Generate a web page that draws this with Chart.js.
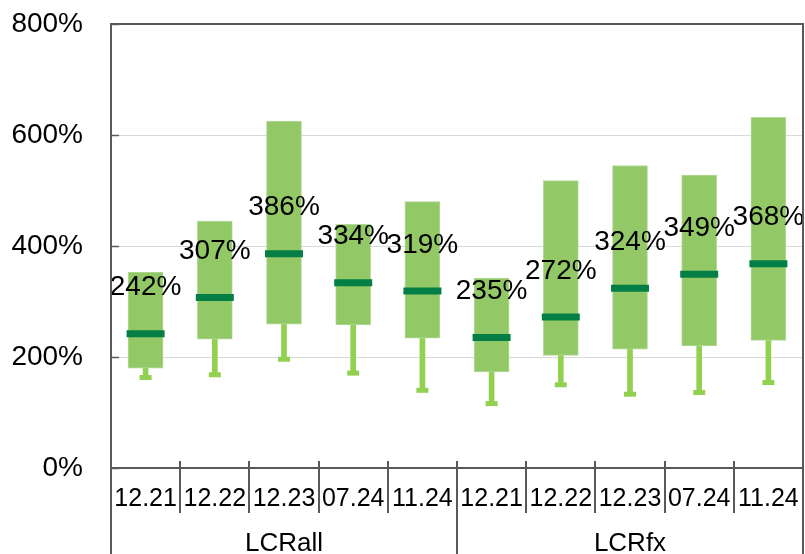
<!DOCTYPE html>
<html>
<head>
<meta charset="utf-8">
<script src="https://cdn.jsdelivr.net/npm/chart.js@4"></script>
<style>
  html, body { margin: 0; padding: 0; background: #fff; }
  #wrap { width: 805px; height: 554px; }
</style>
</head>
<body>
<div id="wrap"><canvas id="lcrChart" width="805" height="554"></canvas></div>
<script>
// values, in %
const periods = ['12.21', '12.22', '12.23', '07.24', '11.24', '12.21', '12.22', '12.23', '07.24', '11.24'];
const groups = ['LCRall', 'LCRfx'];
const boxLow = [180, 232, 259, 258, 234, 173, 203, 214, 220, 230];
const boxHigh = [353, 445, 625, 439, 480, 342, 518, 545, 528, 632];
const medians = [242, 307, 386, 334, 319, 235, 272, 324, 349, 368];
const whiskerLow = [163, 168, 196, 171, 140, 116, 150, 133, 136, 154];
const yTicks = [0, 200, 400, 600, 800];

const FONT = '"Liberation Sans", Arial, sans-serif';
const axisGray = '#595959';

// frame, dividers under the x labels and small inner y ticks
const framePlugin = {
    id: 'framePlugin',
    afterDraw(chart) {
        const { ctx, chartArea: a, scales } = chart;
        const x = scales.x, y = scales.y;
        ctx.save();
        ctx.strokeStyle = axisGray;
        ctx.lineWidth = 2;
        ctx.strokeRect(a.left, a.top, a.right - a.left, a.bottom - a.top);

        ctx.lineWidth = 1.5;
        yTicks.forEach(v => {
            const py = Math.round(y.getPixelForValue(v)) + 0.5;
            ctx.beginPath();
            ctx.moveTo(a.left, py);
            ctx.lineTo(a.left + 8, py);
            ctx.stroke();
        });

        ctx.lineWidth = 2;
        for (let i = 0; i <= periods.length; i++) {
            const px = Math.round(x.getPixelForValue(i - 0.5));
            const isGroupEdge = i % 5 === 0;
            ctx.beginPath();
            ctx.moveTo(px, a.bottom - 7);
            ctx.lineTo(px, isGroupEdge ? chart.height : a.bottom + 45);
            ctx.stroke();
        }
        ctx.restore();
    }
};

// median labels above each median bar
const labelPlugin = {
    id: 'labelPlugin',
    afterDatasetsDraw(chart) {
        const meta = chart.getDatasetMeta(3);
        const { ctx } = chart;
        ctx.save();
        ctx.font = '28px ' + FONT;
        ctx.fillStyle = '#000';
        ctx.textAlign = 'center';
        ctx.textBaseline = 'middle';
        meta.data.forEach((pt, i) => {
            ctx.fillText(medians[i] + '%', pt.x, pt.y - 46);
        });
        ctx.restore();
    }
};

new Chart(document.getElementById('lcrChart'), {
    type: 'bar',
    data: {
        labels: periods,
        datasets: [
            {
                label: 'box',
                data: boxLow.map((v, i) => [v, boxHigh[i]]),
                backgroundColor: '#93C866',
                borderColor: '#B3DA9A',
                borderWidth: 1,
                borderSkipped: false,
                barThickness: 35,
                grouped: false,
                order: 3
            },
            {
                label: 'whisker',
                data: whiskerLow.map((v, i) => [v, boxLow[i]]),
                backgroundColor: '#92D050',
                borderWidth: 0,
                barThickness: 5,
                grouped: false,
                order: 4
            },
            {
                type: 'line',
                label: 'cap',
                data: whiskerLow,
                showLine: false,
                pointStyle: 'line',
                pointRadius: 6,
                pointHoverRadius: 6,
                borderColor: '#92D050',
                pointBorderWidth: 5,
                order: 2
            },
            {
                type: 'line',
                label: 'median',
                data: medians,
                showLine: false,
                pointStyle: 'line',
                pointRadius: 19,
                pointHoverRadius: 19,
                borderColor: '#037E45',
                pointBorderWidth: 7,
                order: 1
            }
        ]
    },
    options: {
        responsive: false,
        animation: false,
        devicePixelRatio: 1,
        layout: { autoPadding: false, padding: { top: 24, right: 2, left: 0, bottom: 0 } },
        plugins: {
            legend: { display: false },
            tooltip: { enabled: false }
        },
        scales: {
            y: {
                min: 0,
                max: 800,
                afterBuildTicks: s => { s.ticks = yTicks.map(v => ({ value: v })); },
                afterFit: s => { s.width = 111; s.paddingTop = 0; s.paddingBottom = 0; },
                grid: { color: '#D9D9D9', lineWidth: 1, drawTicks: false },
                border: { display: false },
                ticks: {
                    padding: 28,
                    color: '#000',
                    font: { family: FONT, size: 28 },
                    callback: v => v + '%'
                }
            },
            x: {
                offset: true,
                afterFit: s => { s.height = 52; s.paddingLeft = 0; s.paddingRight = 0; },
                grid: { display: false },
                border: { display: false },
                ticks: {
                    padding: 8,
                    color: '#000',
                    maxRotation: 0,
                    autoSkip: false,
                    font: { family: FONT, size: 25 }
                }
            },
            x2: {
                type: 'category',
                position: 'bottom',
                labels: groups,
                offset: true,
                afterFit: s => { s.height = 34; s.paddingLeft = 0; s.paddingRight = 0; },
                grid: { display: false },
                border: { display: false },
                ticks: {
                    padding: 0,
                    color: '#000',
                    font: { family: FONT, size: 26 }
                }
            }
        }
    },
    plugins: [framePlugin, labelPlugin]
});
</script>
</body>
</html>
